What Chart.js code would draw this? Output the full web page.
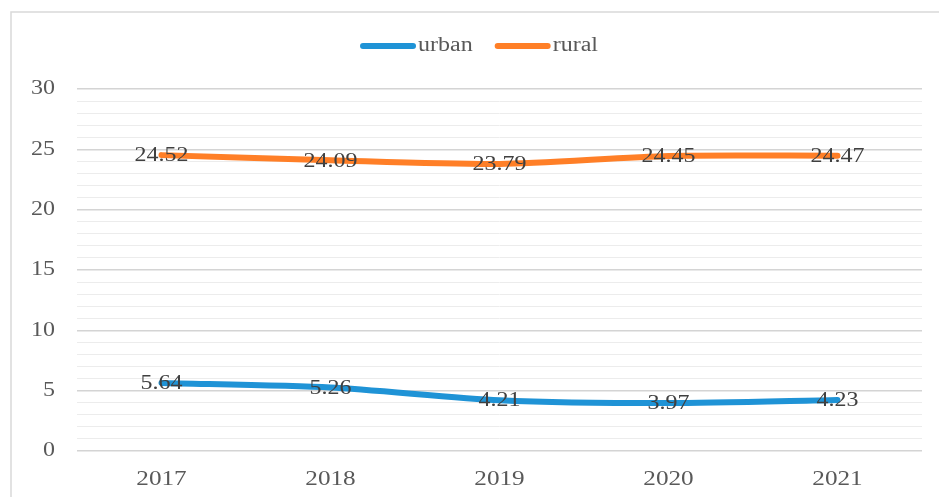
<!DOCTYPE html>
<html>
<head>
<meta charset="utf-8">
<script src="https://cdn.jsdelivr.net/npm/chart.js@4"></script>
<style>
  html, body { margin: 0; padding: 0; background: #fff; }
  #wrap { width: 939px; height: 497px; }
</style>
</head>
<body>
<div id="wrap"><canvas id="canvas" width="939" height="497"></canvas></div>
<script>
// data
var years = ['2017', '2018', '2019', '2020', '2021'];
var urban = [5.64, 5.26, 4.21, 3.97, 4.23];
var rural = [24.52, 24.09, 23.79, 24.45, 24.47];
var yLabels = [0, 5, 10, 15, 20, 25, 30];
var seriesNames = ['urban', 'rural'];
var seriesColors = ['#1f93d6', '#ff7f27'];

var serif = "'Liberation Serif', 'Times New Roman', serif";
var stretch = 1.2; // the picture's text is a bit wide

function wideText(ctx, text, x, y, align) {
  ctx.save();
  ctx.translate(x, y);
  ctx.scale(stretch, 1);
  ctx.textAlign = align;
  ctx.fillText(text, 0, 0);
  ctx.restore();
}

// frame round the chart (cut at right and bottom like the picture)
var framePlugin = {
  id: 'frame',
  beforeDraw: function(chart) {
    var ctx = chart.ctx;
    ctx.save();
    ctx.strokeStyle = '#d9d9d9';
    ctx.lineWidth = 1.5;
    ctx.beginPath();
    ctx.moveTo(11, chart.height);
    ctx.lineTo(11, 12);
    ctx.lineTo(chart.width, 12);
    ctx.stroke();
    ctx.restore();
  }
};

// axis labels, drawn at the scales' own positions
var axisText = {
  id: 'axisText',
  afterDraw: function(chart) {
    var ctx = chart.ctx;
    var xs = chart.scales.x, ys = chart.scales.y;
    ctx.save();
    ctx.fillStyle = '#595959';
    ctx.textBaseline = 'middle';
    ctx.font = '21px ' + serif;
    years.forEach(function(y, i) {
      wideText(ctx, y, xs.getPixelForValue(i), 479, 'center');
    });
    ctx.font = '20px ' + serif;
    yLabels.forEach(function(v) {
      wideText(ctx, String(v), 55, ys.getPixelForValue(v), 'right');
    });
    ctx.restore();
  }
};

// value labels centred on each point
var valueLabels = {
  id: 'valueLabels',
  afterDatasetsDraw: function(chart) {
    var ctx = chart.ctx;
    ctx.save();
    ctx.font = '20px ' + serif;
    ctx.fillStyle = '#404040';
    ctx.textBaseline = 'middle';
    chart.data.datasets.forEach(function(ds, i) {
      var meta = chart.getDatasetMeta(i);
      meta.data.forEach(function(pt, j) {
        wideText(ctx, ds.data[j].toFixed(2), pt.x, pt.y + 1, 'center');
      });
    });
    ctx.restore();
  }
};

// legend like the office one: thick line, text right after it
var lineLegend = {
  id: 'lineLegend',
  afterDraw: function(chart) {
    var ctx = chart.ctx;
    ctx.save();
    ctx.font = '20px ' + serif;
    ctx.textBaseline = 'middle';
    var lineLen = 56, gap = 2, between = 22, y = 46;
    var total = 0;
    chart.data.datasets.forEach(function(ds) {
      total += lineLen + gap + ctx.measureText(ds.label).width * stretch;
    });
    total += between * (chart.data.datasets.length - 1);
    var x = 479 - total / 2;
    chart.data.datasets.forEach(function(ds) {
      ctx.strokeStyle = ds.borderColor;
      ctx.lineWidth = 6;
      ctx.lineCap = 'round';
      ctx.beginPath();
      ctx.moveTo(x + 3, y);
      ctx.lineTo(x + lineLen - 3, y);
      ctx.stroke();
      x += lineLen + gap;
      ctx.fillStyle = '#595959';
      wideText(ctx, ds.label, x, y, 'left');
      x += ctx.measureText(ds.label).width * stretch + between;
    });
    ctx.restore();
  }
};

const ctx = document.getElementById('canvas').getContext('2d');
const myChart = new Chart(ctx, {
  type: 'line',
  data: {
    labels: years,
    datasets: [{
      label: seriesNames[0],
      data: urban,
      borderColor: seriesColors[0],
      backgroundColor: seriesColors[0],
      borderWidth: 6,
      borderCapStyle: 'round',
      pointRadius: 0,
      tension: 0.25
    }, {
      label: seriesNames[1],
      data: rural,
      borderColor: seriesColors[1],
      backgroundColor: seriesColors[1],
      borderWidth: 6,
      borderCapStyle: 'round',
      pointRadius: 0,
      tension: 0.25
    }]
  },
  options: {
    responsive: false,
    animation: false,
    layout: {
      padding: { top: 89, right: 17, bottom: 0, left: 0 }
    },
    plugins: {
      legend: { display: false },
      tooltip: { enabled: false }
    },
    scales: {
      x: {
        offset: true,
        grid: { display: false, drawTicks: false },
        border: { display: false },
        ticks: { display: false },
        afterFit: function(scale) { scale.height = 46; }
      },
      y: {
        min: 0,
        max: 30,
        grid: {
          drawTicks: false,
          color: function(c) {
            return c.tick && c.tick.value % 5 === 0 ? '#d4d4d4' : '#ececec';
          },
          lineWidth: function(c) {
            return c.tick && c.tick.value % 5 === 0 ? 1.5 : 1;
          }
        },
        border: { display: false },
        ticks: { display: false, stepSize: 1, autoSkip: false },
        afterFit: function(scale) { scale.width = 77; }
      }
    }
  },
  plugins: [framePlugin, axisText, valueLabels, lineLegend]
});
</script>
</body>
</html>
